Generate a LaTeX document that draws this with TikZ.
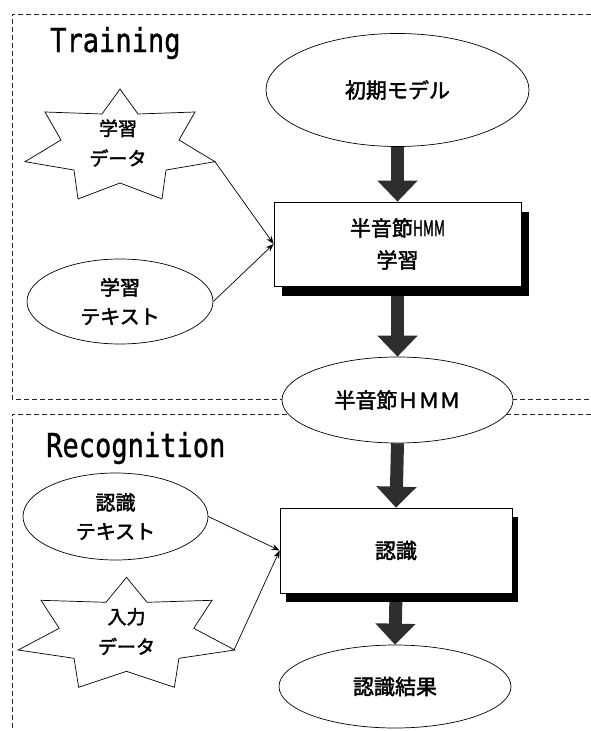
\documentclass[tikz,border=0pt]{standalone}
\usepackage{fontspec}
\newfontfamily\jp{Noto Sans CJK JP}[FakeBold=2]
\newfontfamily\lab{DejaVu Sans Mono}[FakeStretch=0.82,FakeBold=1]
\usetikzlibrary{shapes.geometric,arrows.meta,shadows}
\pgfdeclarelayer{bg}
\pgfsetlayers{bg,main}
\begin{document}
\begin{tikzpicture}[x=1pt,y=-1pt,
  frame/.style={draw=black!85, line width=0.8pt, dash pattern=on 5pt off 3pt},
  ell/.style={ellipse, draw, line width=0.7pt, fill=white, inner sep=0pt, align=center},
  procbox/.style={rectangle, draw, line width=0.7pt, fill=white, inner sep=0pt, align=center},
  bigarrow/.style={draw=black!82, line width=13pt, -{Triangle[width=39pt,length=21pt]}},
  thinarrow/.style={line width=0.7pt, -{Stealth[length=8pt,width=6pt]}},
  starshape/.style={draw, line width=0.7pt, fill=white, line join=miter},
  lbl/.style={font=\lab\fontsize{33}{33}\selectfont, anchor=base west, inner sep=0pt},
  big/.style={font=\jp\fontsize{21}{32}\selectfont},
  mid/.style={font=\jp\fontsize{20}{29}\selectfont},
  small/.style={font=\jp\fontsize{19}{30}\selectfont, align=center, inner sep=0pt}
]
\useasboundingbox (0,0) rectangle (591,731);

% frames
\draw[frame] (591,14) -- (12,14) -- (12,399) -- (591,399);
\draw[frame] (591,414) -- (12,414) -- (12,731);

\node[lbl] (ttrain) at (50,52) {Training};
\node[lbl] (trec) at (46,457) {Recognition};

% stars
\draw[starshape, shift={(120,155)}] (0,-66) -- (18,-41) -- (75,-43) -- (59,-15) -- (95,6.7) -- (46,15) -- (42,44) -- (0,28) -- (-42,44) -- (-46,15) -- (-95,6.7) -- (-59,-15) -- (-75,-43) -- (-18,-41) -- cycle;
\node[small] (s1) at (118,143) {学習\\データ};
\coordinate (s1r) at (215,161.7);

\draw[starshape, shift={(126.5,643.3)}, xscale=1.14] (0,-66) -- (18,-41) -- (75,-43) -- (59,-15) -- (95,6.7) -- (46,15) -- (42,44) -- (0,28) -- (-42,44) -- (-46,15) -- (-95,6.7) -- (-59,-15) -- (-75,-43) -- (-18,-41) -- cycle;
\node[small] (s2) at (126.5,631.5) {入力\\データ};
\coordinate (s2r) at (234,650);

% ellipses
\node[ell, big, minimum width=263pt, minimum height=113pt] (init) at (397.5,90) {初期モデル};
\node[ell, big, minimum width=231pt, minimum height=86pt] (hmm) at (397.5,400) {半音節ＨＭＭ};
\node[ell, big, minimum width=232pt, minimum height=83pt] (res) at (395,686.5) {認識結果};
\node[ell, mid, minimum width=186pt, minimum height=85pt] (lt) at (120,301.5) {学習\\テキスト};
\node[ell, mid, minimum width=185pt, minimum height=87pt] (rt) at (115.5,516.5) {認識\\テキスト};

% boxes
\node[procbox, big, minimum width=247pt, minimum height=84pt,
  drop shadow={shadow xshift=8pt, shadow yshift=-10pt, fill=black, opacity=1}] (b1) at (397.5,244)
  {半音節\scalebox{0.65}[1]{HMM}\\学習};
\node[procbox, big, minimum width=232pt, minimum height=85pt,
  drop shadow={shadow xshift=6pt, shadow yshift=-9pt, fill=black, opacity=1}] (b2) at (396,550.5) {認識};

% thick arrows
\begin{pgfonlayer}{bg}
\fill[white] (0,0) rectangle (591,731);
\draw[bigarrow] (init.south) -- (b1.north);
\draw[bigarrow] (b1.south) -- (hmm.north);
\draw[bigarrow] (hmm.south) -- (b2.north);
\draw[bigarrow] (b2.south) -- (res.north);
\end{pgfonlayer}

% thin connectors
\draw[thinarrow] (s1r) -- (b1.west);
\draw[thinarrow] (lt.east) -- (b1.west);
\draw[thinarrow] (rt.east) -- (b2.west);
\draw[thinarrow] (s2r) -- (b2.west);
\end{tikzpicture}
\end{document}
